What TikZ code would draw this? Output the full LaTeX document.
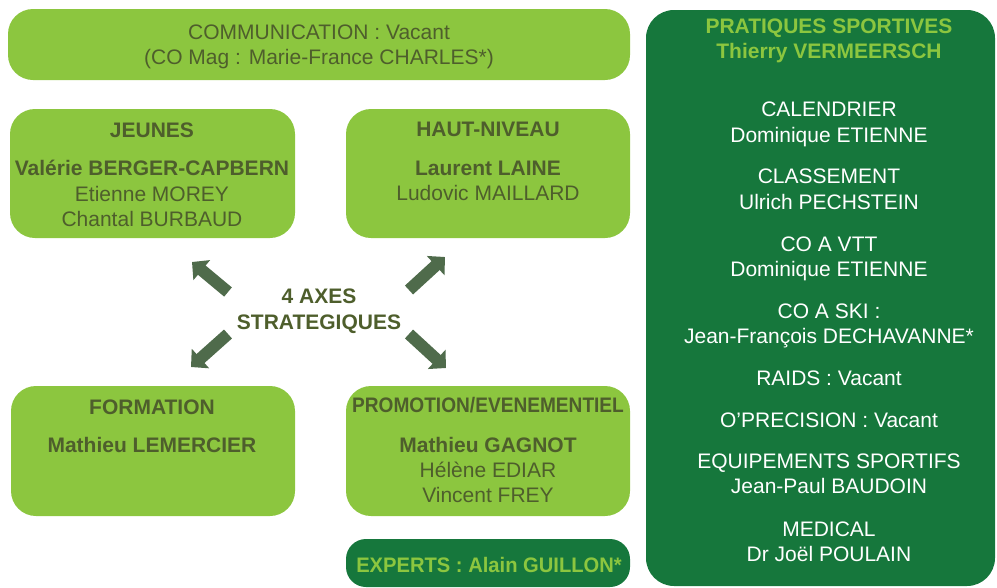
\documentclass[tikz,border=0pt]{standalone}
\usepackage{fontspec}
\usepackage{graphicx}
\setmainfont{Liberation Sans}
\usetikzlibrary{arrows.meta}
\definecolor{lgreen}{HTML}{8CC63F}
\definecolor{dgreen}{HTML}{16773C}
\definecolor{olive}{HTML}{4E5E2C}
\definecolor{arrowc}{HTML}{4F6B4B}
\begin{document}
\fontsize{21}{25}\selectfont
\begin{tikzpicture}[x=1pt,y=-1pt,
  lbox/.style={fill=lgreen, draw=none, rounded corners=25pt, inner sep=0pt, outer sep=0pt, anchor=north west},
  dbox/.style={fill=dgreen, draw=none, rounded corners=28pt, inner sep=0pt, outer sep=0pt, anchor=north west},
  hd/.style={font=\bfseries, text=olive, anchor=base, inner sep=0pt},
  nm/.style={text=olive, anchor=base, inner sep=0pt},
  dh/.style={font=\bfseries, text=lgreen, anchor=base, inner sep=0pt},
  wt/.style={text=white, anchor=base, inner sep=0pt},
  axarrow/.style={draw=arrowc, line width=12pt, -{Triangle[angle=90:18pt, fill=arrowc]}}
]
\useasboundingbox (0,0) rectangle (997,587);

% boxes
\node[lbox, minimum width=622pt, minimum height=71pt] (comm) at (8,9) {};
\node[lbox, minimum width=285pt, minimum height=129pt] (jeunes) at (10,109) {};
\node[lbox, minimum width=284pt, minimum height=129pt] (haut) at (346,109) {};
\node[lbox, minimum width=284pt, minimum height=130pt] (form) at (11,386) {};
\node[lbox, minimum width=284pt, minimum height=130pt] (promo) at (346,386) {};
\node[dbox, rounded corners=20pt, minimum width=284pt, minimum height=48pt] (experts) at (346,539) {};
\node[dbox, minimum width=349pt, minimum height=576pt] (prat) at (646,10) {};

% communication
\node[nm] (c1) at (319,39) {COMMUNICATION : Vacant};
\node[nm] (c2) at (319,64) {(CO Mag : Marie-France CHARLES*)};

% jeunes
\node[hd] (j1) at (152,137) {JEUNES};
\node[hd] (j2) at (152,175) {Valérie BERGER-CAPBERN};
\node[nm] (j3) at (152,201) {Etienne MOREY};
\node[nm] (j4) at (152,226) {Chantal BURBAUD};

% haut-niveau
\node[hd] (h1) at (488,136) {HAUT-NIVEAU};
\node[hd] (h2) at (488,175) {Laurent LAINE};
\node[nm] (h3) at (488,200) {Ludovic MAILLARD};

% axes
\node[hd] (a1) at (319,303) {4 AXES};
\node[hd] (a2) at (319,329) {STRATEGIQUES};

% formation
\node[hd] (f1) at (152,414) {FORMATION};
\node[hd] (f2) at (152,452) {Mathieu LEMERCIER};

% promotion
\node[hd] (p1) at (488,412.5) {\scalebox{0.91}[1]{PROMOTION/EVENEMENTIEL}};
\node[hd] (p2) at (488,452.5) {Mathieu GAGNOT};
\node[nm] (p3) at (488,477) {Hélène EDIAR};
\node[nm] (p4) at (488,502.5) {Vincent FREY};

% experts
\node[dh] (e1) at (489,572) {\scalebox{0.96}[1]{EXPERTS : Alain GUILLON*}};

% pratiques sportives
\node[dh] (s1) at (829,33) {PRATIQUES SPORTIVES};
\node[dh] (s2) at (829,58.5) {Thierry VERMEERSCH};
\node[wt] (s3) at (829,116) {CALENDRIER};
\node[wt] (s4) at (829,142) {Dominique ETIENNE};
\node[wt] (s5) at (829,183.5) {CLASSEMENT};
\node[wt] (s6) at (829,209) {Ulrich PECHSTEIN};
\node[wt] (s7) at (829,251.5) {CO A VTT};
\node[wt] (s8) at (829,276) {Dominique ETIENNE};
\node[wt] (s9) at (829,318) {CO A SKI :};
\node[wt] (s10) at (829,343) {Jean-François DECHAVANNE*};
\node[wt] (s11) at (829,385) {RAIDS : Vacant};
\node[wt] (s12) at (829,427) {O’PRECISION : Vacant};
\node[wt] (s13) at (829,468) {EQUIPEMENTS SPORTIFS};
\node[wt] (s14) at (829,493) {Jean-Paul BAUDOIN};
\node[wt] (s15) at (829,536) {MEDICAL};
\node[wt] (s16) at (829,561) {Dr Joël POULAIN};

% arrows
\coordinate (tlA) at (228,292); \coordinate (tlB) at (192,262);
\coordinate (trA) at (409,290); \coordinate (trB) at (445,257);
\coordinate (blA) at (228,334); \coordinate (blB) at (191,367);
\coordinate (brA) at (409,334); \coordinate (brB) at (446,368);
\draw[axarrow] (tlA) -- (tlB);
\draw[axarrow] (trA) -- (trB);
\draw[axarrow] (blA) -- (blB);
\draw[axarrow] (brA) -- (brB);
\end{tikzpicture}
\end{document}
